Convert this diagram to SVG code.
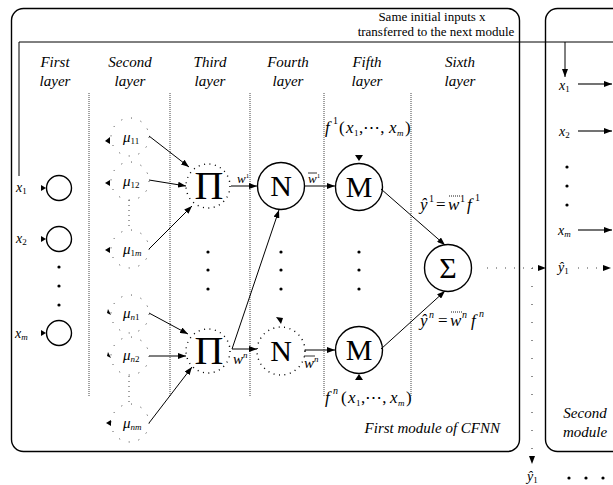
<svg xmlns="http://www.w3.org/2000/svg" width="613" height="485" viewBox="0 0 613 485">
<defs>
<style>
text{font-family:"Liberation Serif","Times New Roman",serif;fill:#000}
.hd{font-size:15px;font-style:italic;text-anchor:middle}
.lb{font-size:14px;font-style:italic}
.eq{font-size:17px;font-style:italic}
.up{font-style:normal}
.sub{font-size:9px;font-style:normal}
.sp{font-size:10px;font-style:normal}
.box{fill:none;stroke:#000;stroke-width:1.4}
.node{fill:#fff;stroke:#000;stroke-width:1.4}
.dnode{fill:none;stroke:#000;stroke-width:1.4;stroke-dasharray:1 4.5}
.mu{fill:none;stroke:#333;stroke-width:1;stroke-dasharray:1 9}
.sep{stroke:#444;stroke-width:1;stroke-dasharray:1 1;fill:none}
.ln{stroke:#000;stroke-width:1;fill:none}
.bar{stroke:#000;stroke-width:0.8;fill:none}
.dbar{stroke:#000;stroke-width:0.9;fill:none;stroke-dasharray:1 1}
.dl{stroke:#444;stroke-width:1.2;fill:none;stroke-dasharray:1 8}
.big{font-size:40px;text-anchor:middle}
.sym{font-size:30px;text-anchor:middle}
.dot{fill:#000}
</style>
<marker id="ah" viewBox="0 0 8 6" refX="8" refY="3" markerWidth="8" markerHeight="6" markerUnits="userSpaceOnUse" orient="auto">
<path d="M0,0 L8,3 L0,6 Z" fill="#000"/>
</marker>
</defs>
<rect width="613" height="485" fill="#fff"/>

<g id="module1">
<rect class="box" x="11.5" y="8.5" width="508" height="443" rx="12"/>
<text style="font-size:15px;font-style:italic" x="500" y="433" text-anchor="end">First module of CFNN</text>
</g>
<g id="module2">
<rect class="box" x="545.5" y="8.5" width="120" height="443" rx="12"/>
<text class="hd" x="585" y="418">Second</text>
<text class="hd" x="585" y="437">module</text>
</g>

<g id="headers">
<text class="hd" x="55" y="67">First</text><text class="hd" x="55" y="86">layer</text>
<text class="hd" x="130" y="67">Second</text><text class="hd" x="130" y="86">layer</text>
<text class="hd" x="210" y="67">Third</text><text class="hd" x="210" y="86">layer</text>
<text class="hd" x="288" y="67">Fourth</text><text class="hd" x="288" y="86">layer</text>
<text class="hd" x="367" y="67">Fifth</text><text class="hd" x="367" y="86">layer</text>
<text class="hd" x="460" y="67">Sixth</text><text class="hd" x="460" y="86">layer</text>
<text x="432" y="21" style="font-size:13px" text-anchor="middle">Same initial inputs x</text>
<text x="436" y="36" style="font-size:13px" text-anchor="middle">transferred to the next module</text>
</g>

<g id="separators">
<line class="sep" x1="89" y1="93" x2="89" y2="397"/>
<line class="sep" x1="170" y1="93" x2="170" y2="397"/>
<line class="sep" x1="250" y1="93" x2="250" y2="397"/>
<line class="sep" x1="324" y1="93" x2="324" y2="397"/>
<line class="sep" x1="411" y1="93" x2="411" y2="397"/>
</g>

<g id="layer1">
<circle class="node" cx="59" cy="188" r="12.5"/>
<circle class="node" cx="59" cy="239" r="12.5"/>
<circle class="node" cx="59" cy="333" r="12.5"/>
<circle class="dot" cx="59" cy="267" r="1.6"/>
<circle class="dot" cx="59" cy="286" r="1.6"/>
<circle class="dot" cx="59" cy="305" r="1.6"/>
<path d="M41,185 L46,188 L41,191 Z" fill="#000"/>
<path d="M41,236 L46,239 L41,242 Z" fill="#000"/>
<path d="M41,330 L46,333 L41,336 Z" fill="#000"/>
<text class="lb" x="16" y="192">x<tspan class="sub" dy="2">1</tspan></text>
<text class="lb" x="16" y="243">x<tspan class="sub" dy="2">2</tspan></text>
<text class="lb" x="15" y="338">x<tspan class="sub" dy="2" style="font-style:italic">m</tspan></text>
</g>

<g id="layer2">
<circle class="mu" cx="130" cy="137" r="19"/>
<circle class="mu" cx="130" cy="181" r="19"/>
<circle class="mu" cx="130" cy="249" r="19"/>
<circle class="mu" cx="130" cy="314" r="19"/>
<circle class="mu" cx="130" cy="356" r="19"/>
<circle class="mu" cx="130" cy="423" r="19"/>
<line class="sep" x1="129" y1="200" x2="129" y2="228" style="stroke-dasharray:1 4"/>
<line class="sep" x1="129" y1="376" x2="129" y2="402" style="stroke-dasharray:1 4"/>
<path d="M105,141 L110,137 L110,144 Z" fill="#000"/>
<path d="M105,183 L110,180 L110,186 Z" fill="#000"/>
<path d="M105,250 L110,247 L110,253 Z" fill="#000"/>
<path d="M108,309 L111,315 L107,313 Z" fill="#000"/>
<path d="M108,352 L111,358 L107,356 Z" fill="#000"/>
<path d="M106,423 L111,420 L111,426 Z" fill="#000"/>
<text class="lb" x="123" y="142" style="font-size:15px">μ<tspan class="sub" dy="2">11</tspan></text>
<text class="lb" x="123" y="186" style="font-size:15px">μ<tspan class="sub" dy="2">12</tspan></text>
<text class="lb" x="123" y="254" style="font-size:15px">μ<tspan class="sub" dy="2">1<tspan style="font-style:italic">m</tspan></tspan></text>
<text class="lb" x="123" y="318" style="font-size:15px">μ<tspan class="sub" dy="2"><tspan style="font-style:italic">n</tspan>1</tspan></text>
<text class="lb" x="123" y="360" style="font-size:15px">μ<tspan class="sub" dy="2"><tspan style="font-style:italic">n</tspan>2</tspan></text>
<text class="lb" x="123" y="428" style="font-size:15px">μ<tspan class="sub" dy="2" style="font-style:italic">nm</tspan></text>
</g>

<g id="pi1">
<circle class="dnode" cx="208" cy="186" r="22"/>
<text class="big" x="209" y="199">Π</text>
</g>
<g id="pi2">
<circle class="dnode" cx="208" cy="351" r="22"/>
<text class="big" x="209" y="364">Π</text>
</g>
<g id="dots3">
<circle class="dot" cx="208" cy="252" r="1.6"/>
<circle class="dot" cx="208" cy="270" r="1.6"/>
<circle class="dot" cx="208" cy="289" r="1.6"/>
</g>

<g id="n1">
<circle class="node" cx="281" cy="186" r="23.5"/>
<text class="sym" x="281" y="196">N</text>
</g>
<g id="n2">
<circle class="dnode" cx="281" cy="351" r="24"/>
<text class="sym" x="281" y="361">N</text>
</g>
<g id="dots4">
<circle class="dot" cx="281" cy="252" r="1.6"/>
<circle class="dot" cx="281" cy="270" r="1.6"/>
<circle class="dot" cx="281" cy="289" r="1.6"/>
<path d="M276,317 L283,318 L281,324 Z" fill="#000"/>
</g>

<g id="m1">
<circle class="node" cx="359" cy="187" r="23.5"/>
<text class="sym" x="359" y="197">M</text>
</g>
<g id="m2">
<circle class="node" cx="359" cy="350" r="23.5"/>
<text class="sym" x="359" y="360">M</text>
</g>
<g id="dots5">
<circle class="dot" cx="359" cy="252" r="1.6"/>
<circle class="dot" cx="359" cy="270" r="1.6"/>
<circle class="dot" cx="359" cy="289" r="1.6"/>
</g>
<g id="f1">
<text class="eq"><tspan x="325" y="133">f</tspan><tspan class="sp" x="333" y="124">1</tspan><tspan class="up" x="339" y="133">(</tspan><tspan x="346" y="133">x</tspan><tspan class="sub" x="354" y="136">1</tspan><tspan class="up" x="359" y="133">,⋯,</tspan><tspan x="389" y="133">x</tspan><tspan class="sub" x="397" y="136" style="font-style:italic">m</tspan><tspan class="up" x="405" y="133">)</tspan></text>
</g>
<g id="fn">
<text class="eq"><tspan x="325" y="403">f</tspan><tspan class="sp" x="333" y="394" style="font-style:italic">n</tspan><tspan class="up" x="341" y="403">(</tspan><tspan x="348" y="403">x</tspan><tspan class="sub" x="356" y="406">1</tspan><tspan class="up" x="361" y="403">,⋯,</tspan><tspan x="390" y="403">x</tspan><tspan class="sub" x="398" y="406" style="font-style:italic">m</tspan><tspan class="up" x="406" y="403">)</tspan></text>
</g>

<g id="sigma">
<circle class="node" cx="448" cy="268" r="23.5"/>
<text class="sym" x="448" y="278">Σ</text>
</g>
<g id="eqs">
<text class="eq"><tspan x="420" y="210">ŷ</tspan><tspan class="sp" x="429" y="202">1</tspan><tspan class="up" x="436" y="210">=</tspan><tspan x="448" y="210">w</tspan><tspan class="sp" x="460" y="202">1</tspan><tspan x="467" y="210">f</tspan><tspan class="sp" x="475" y="201">1</tspan></text>
<path class="dbar" d="M449,196 H460"/>
<text class="eq"><tspan x="420" y="326">ŷ</tspan><tspan class="sp" x="429" y="318" style="font-style:italic">n</tspan><tspan class="up" x="438" y="326">=</tspan><tspan x="450" y="326">w</tspan><tspan class="sp" x="462" y="318" style="font-style:italic">n</tspan><tspan x="471" y="326">f</tspan><tspan class="sp" x="479" y="317" style="font-style:italic">n</tspan></text>
<path class="dbar" d="M451,312 H462"/>
</g>

<g id="wlabels">
<text class="lb" x="237" y="183" style="font-size:13px">w<tspan class="sub" dy="-5" style="font-size:7px">1</tspan></text>
<text class="lb" x="233" y="364" style="font-size:15px">w<tspan class="sub" dy="-6" style="font-size:9px;font-style:italic">n</tspan></text>
<text class="lb" x="308" y="183" style="font-size:13px">w<tspan class="sub" dy="-5" style="font-size:7px">1</tspan></text>
<path class="bar" d="M308,173 H317"/>
<text class="lb" x="304" y="368" style="font-size:15px">w<tspan class="sub" dy="-6" style="font-size:9px;font-style:italic">n</tspan></text>
<path class="bar" d="M304,356 H315"/>
</g>

<g id="m2inputs">
<text class="lb" x="559" y="90">x<tspan class="sub" dy="2">1</tspan></text>
<text class="lb" x="559" y="136">x<tspan class="sub" dy="2">2</tspan></text>
<text class="lb" x="558" y="235">x<tspan class="sub" dy="2" style="font-style:italic">m</tspan></text>
<text class="lb" x="558" y="272">ŷ<tspan class="sub" dy="2">1</tspan></text>
<circle class="dot" cx="567" cy="167" r="1.6"/>
<circle class="dot" cx="567" cy="186" r="1.6"/>
<circle class="dot" cx="567" cy="205" r="1.6"/>
</g>
<g id="yout">
<text class="lb" x="527" y="481">ŷ<tspan class="sub" dy="2">1</tspan></text>
<circle class="dot" cx="569" cy="478" r="1.6"/>
<circle class="dot" cx="586" cy="478" r="1.6"/>
<circle class="dot" cx="603" cy="478" r="1.6"/>
</g>

<g id="connectors">
<line class="ln" x1="149" y1="136" x2="189" y2="167" marker-end="url(#ah)"/>
<line class="ln" x1="149" y1="180" x2="186" y2="186" marker-end="url(#ah)"/>
<line class="ln" x1="149" y1="249" x2="192" y2="206" marker-end="url(#ah)"/>
<line class="ln" x1="149" y1="313" x2="188" y2="334" marker-end="url(#ah)"/>
<line class="ln" x1="149" y1="356" x2="186" y2="356" marker-end="url(#ah)" style="stroke:#555;stroke-width:1.5"/>
<line class="ln" x1="149" y1="423" x2="192" y2="367" marker-end="url(#ah)"/>
<line class="ln" x1="231" y1="186" x2="257" y2="186" marker-end="url(#ah)" style="stroke:#555;stroke-width:1.5"/>
<path class="ln" d="M232,349 L279,210" marker-end="url(#ah)"/>
<line class="ln" x1="232" y1="349" x2="257" y2="349" marker-end="url(#ah)"/>
<line class="ln" x1="305" y1="186" x2="335" y2="186" marker-end="url(#ah)" style="stroke:#555;stroke-width:1.5"/>
<line class="ln" x1="305" y1="350" x2="335" y2="350" marker-end="url(#ah)"/>
<line class="ln" x1="381" y1="189" x2="445" y2="245" marker-end="url(#ah)"/>
<line class="ln" x1="381" y1="349" x2="445" y2="291" marker-end="url(#ah)"/>
<path d="M355,155 L363,155 L359,161 Z" fill="#000"/>
<path d="M355,380 L363,380 L359,374 Z" fill="#000"/>
<path class="ln" d="M19,176 V42 H613"/>
<line class="ln" x1="565" y1="42" x2="565" y2="77" marker-end="url(#ah)"/>
<line class="ln" x1="578" y1="84" x2="612" y2="84" marker-end="url(#ah)" style="stroke:#444;stroke-width:1.5"/>
<line class="ln" x1="578" y1="131" x2="612" y2="131" marker-end="url(#ah)" style="stroke:#444;stroke-width:1.5"/>
<line class="ln" x1="578" y1="230" x2="612" y2="230" marker-end="url(#ah)" style="stroke:#444;stroke-width:1.5"/>
<path class="dl" d="M487,268 H546" marker-end="url(#ah)"/>
<path class="dl" d="M578,268 H611" marker-end="url(#ah)"/>
<path class="dl" d="M532,268 V464" marker-end="url(#ah)" style="stroke-dasharray:1 17"/>
</g>
</svg>
